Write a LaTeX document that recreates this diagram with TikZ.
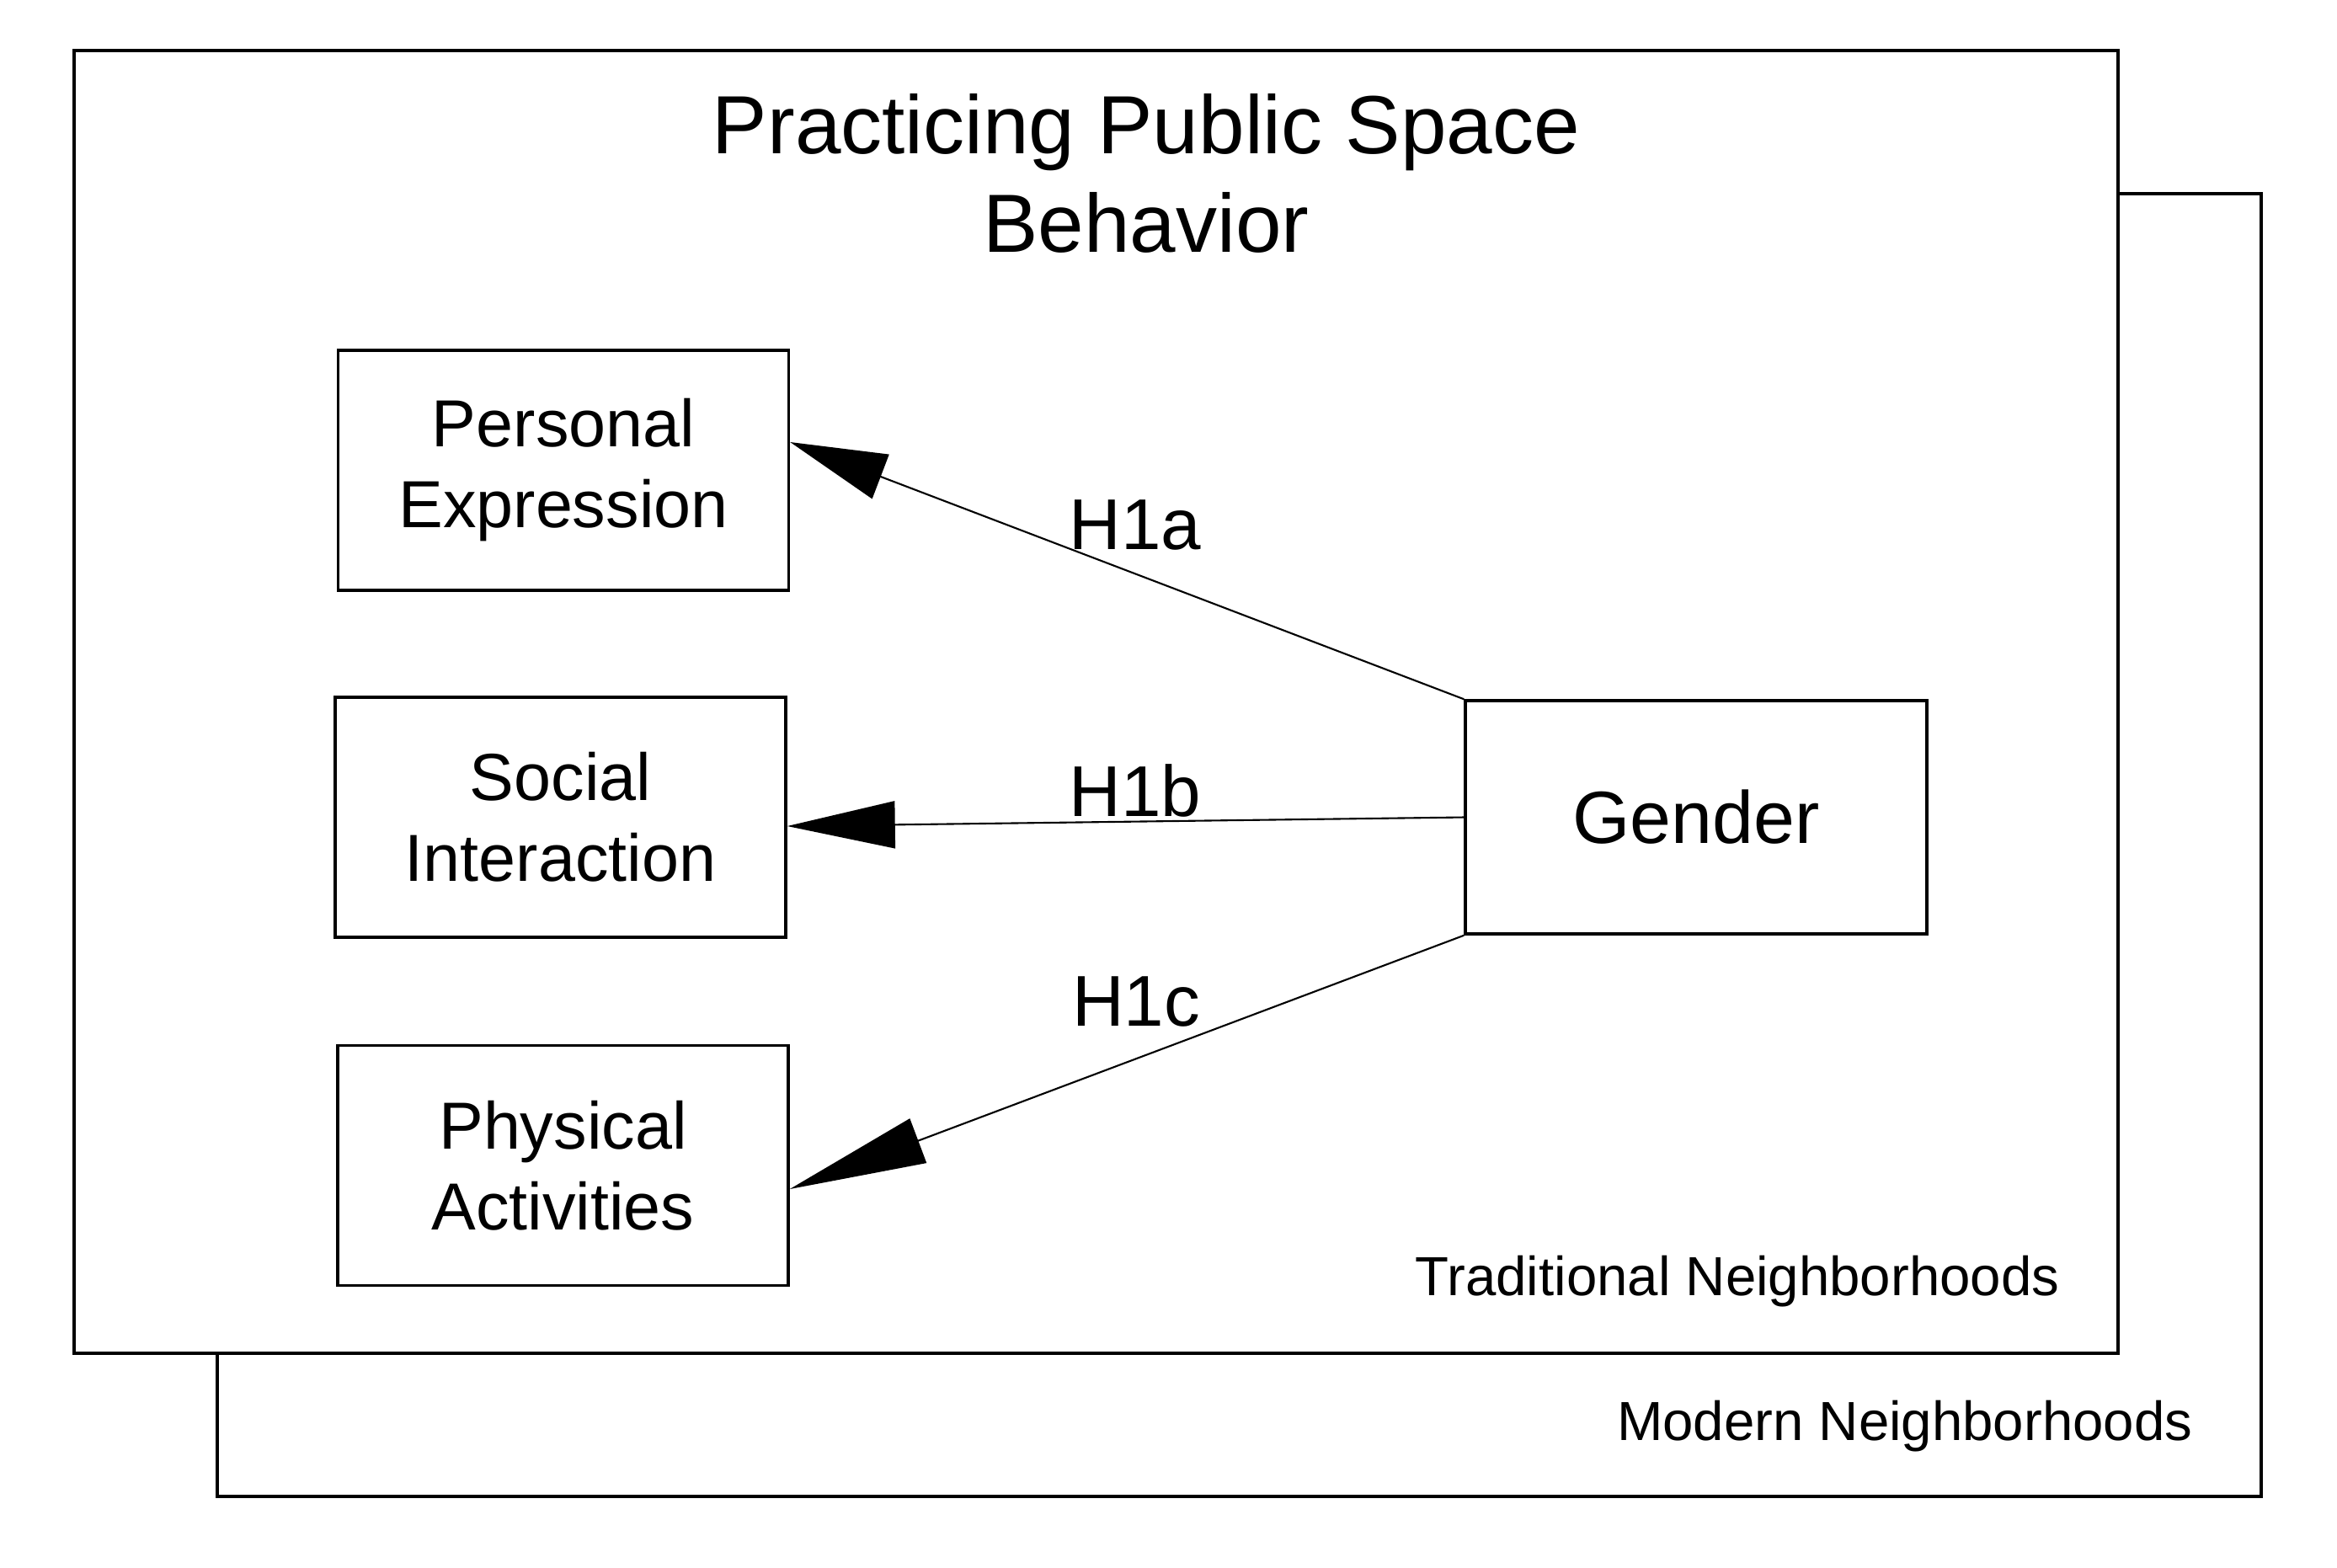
\documentclass[tikz,border=0pt]{standalone}
\usepackage{fontspec}
\setmainfont{Liberation Sans}
\usetikzlibrary{arrows.meta}

\begin{document}
\begin{tikzpicture}[
  frame/.style={draw, line width=1pt, fill=white},
  factor/.style={draw, line width=1pt, align=center, inner sep=0cm,
    minimum width=5.35cm, minimum height=2.85cm,
    font=\fontsize{22.5}{27.3}\selectfont},
  hyp/.style={line width=0.6pt, -{Triangle[length=#1, width=0.56cm]}},
  hlabel/.style={anchor=base, inner sep=0cm, font=\fontsize{24.3}{28}\selectfont},
  setting/.style={anchor=base east, inner sep=0cm, font=\fontsize{18.6}{22}\selectfont}
]
\useasboundingbox (0,0) rectangle (27.75,-18.61);

\draw[frame] (2.58,-2.30) rectangle (26.85,-17.77);
\draw[frame] (0.88,-0.60) rectangle (25.15,-16.07);

\node[setting] (modern) at (26.04,-17.10) {Modern Neighborhoods};
\node[setting] (traditional) at (24.46,-15.38) {Traditional Neighborhoods};

\node[align=center, inner sep=0cm, font=\fontsize{27.9}{33.2}\selectfont]
  (title) at (13.61,-2.06) {Practicing Public Space\\Behavior};

\node[factor] (personal) at (6.69,-5.585) {Personal\\Expression};
\node[factor] (social) at (6.655,-9.705) {Social\\Interaction};
\node[factor] (physical) at (6.685,-13.84) {Physical\\Activities};

\node[factor, minimum width=5.48cm, minimum height=2.77cm,
  font=\fontsize{25}{30}\selectfont] (gender) at (20.14,-9.705) {Gender};

\draw[hyp=1.15cm] (gender.north west) -- ([yshift=0.335cm]personal.east);
\draw[hyp=1.28cm] (gender.west) -- ([yshift=-0.105cm]social.east);
\draw[hyp=1.63cm] (gender.south west) -- ([yshift=-0.28cm]physical.east);

\node[hlabel] (h1a) at (13.48,-6.52) {H1a};
\node[hlabel] (h1b) at (13.48,-9.69) {H1b};
\node[hlabel] (h1c) at (13.49,-12.18) {H1c};
\end{tikzpicture}
\end{document}
